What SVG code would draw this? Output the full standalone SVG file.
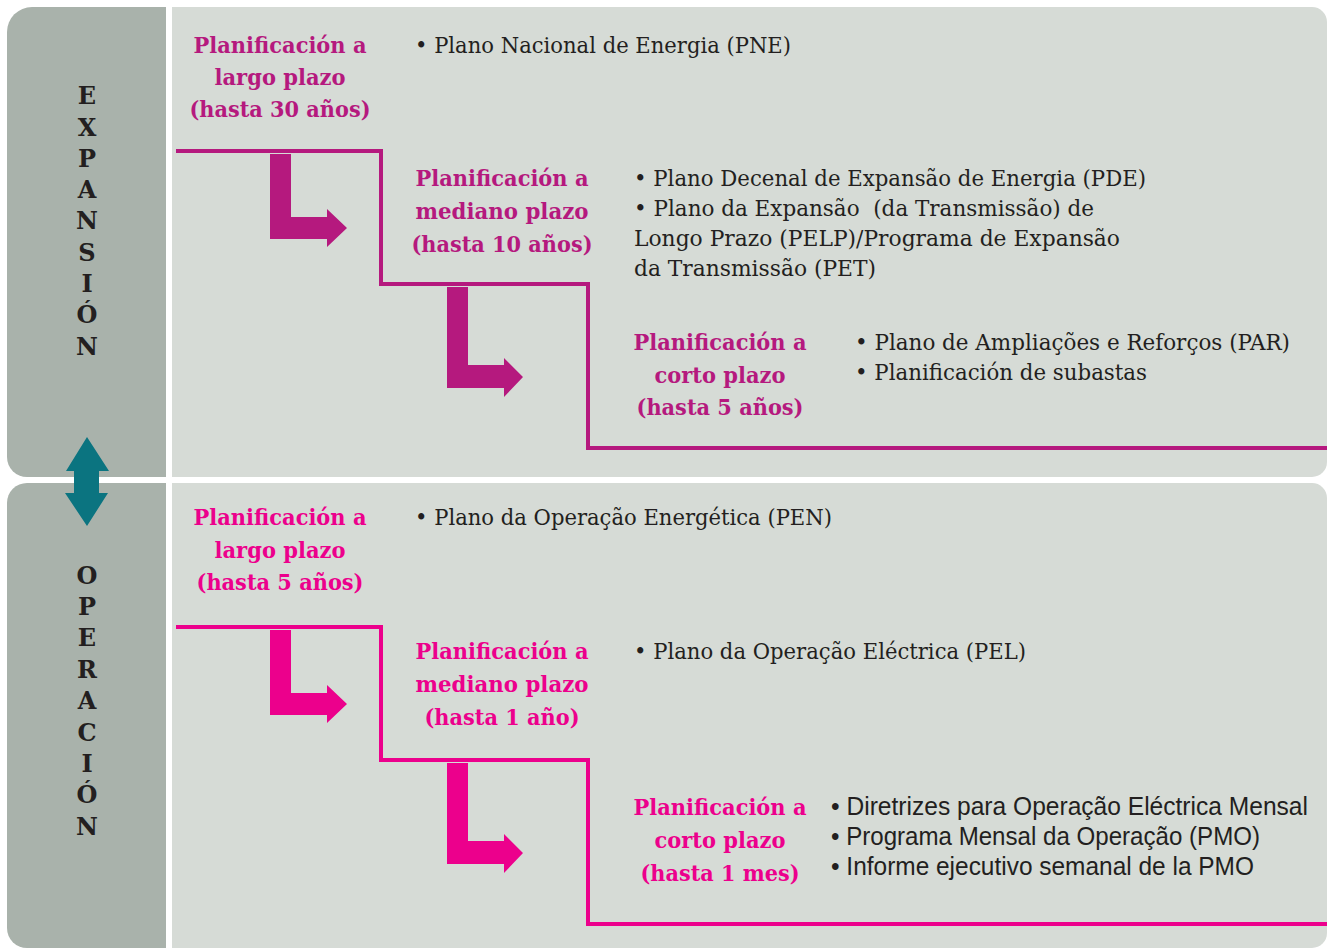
<svg xmlns="http://www.w3.org/2000/svg" width="1333" height="949" viewBox="0 0 1333 949">
<style>
.side{fill:#a9b2ab}
.main{fill:#d6dbd6}
.vl{font-family:"DejaVu Serif",serif;font-weight:bold;font-size:24px;fill:#231f20;text-anchor:middle}
.h{font-family:"DejaVu Serif",serif;font-weight:bold;font-size:22px;text-anchor:middle}
.hx{fill:#b5197e}
.ho{fill:#ec008c}
.b{font-family:"DejaVu Serif",serif;font-size:22px;fill:#231f20}
.bc{font-family:"Liberation Sans",sans-serif;font-size:25px;fill:#231f20}
.stx{fill:none;stroke:#b5197e;stroke-width:4}
.sto{fill:none;stroke:#ec008c;stroke-width:4}
</style>
<rect width="1333" height="949" fill="#ffffff"/>
<g id="panel-expansion">
<path class="side" d="M32,7 H166 V477 H27 A20,20 0 0 1 7,457 V32 A25,25 0 0 1 32,7 Z"/>
<path class="main" d="M172,7 H1312 A15,15 0 0 1 1327,22 V462 A15,15 0 0 1 1312,477 H172 Z"/>
<g id="label-expansion">
<text class="vl" x="87" y="104">E</text>
<text class="vl" x="87" y="136">X</text>
<text class="vl" x="87" y="167">P</text>
<text class="vl" x="87" y="198">A</text>
<text class="vl" x="87" y="229">N</text>
<text class="vl" x="87" y="261">S</text>
<text class="vl" x="87" y="292">I</text>
<text class="vl" x="87" y="323">Ó</text>
<text class="vl" x="87" y="355">N</text>
</g>
</g>
<g id="panel-operacion">
<path class="side" d="M27,483 H166 V948 H27 A20,20 0 0 1 7,928 V503 A20,20 0 0 1 27,483 Z"/>
<path class="main" d="M172,483 H1312 A15,15 0 0 1 1327,498 V933 A15,15 0 0 1 1312,948 H172 Z"/>
<g id="label-operacion">
<text class="vl" x="87" y="584">O</text>
<text class="vl" x="87" y="615">P</text>
<text class="vl" x="87" y="646">E</text>
<text class="vl" x="87" y="678">R</text>
<text class="vl" x="87" y="709">A</text>
<text class="vl" x="87" y="741">C</text>
<text class="vl" x="87" y="772">I</text>
<text class="vl" x="87" y="803">Ó</text>
<text class="vl" x="87" y="835">N</text>
</g>
</g>
<g id="connectors">
<path class="stx" d="M176,151 H381 V284 H588 V448 H1327"/>
<path fill="#b5197e" d="M270,154 H291 V217 H327 V209 L347,228 L327,247 V239 H270 Z"/>
<path fill="#b5197e" d="M447,287 H468 V365 H504 V358 L523,377 L504,397 V388 H447 Z"/>
<path class="sto" d="M176,627 H381 V760 H588 V924 H1327"/>
<path fill="#ec008c" d="M270,630 H291 V693 H327 V685 L347,704 L327,723 V715 H270 Z"/>
<path fill="#ec008c" d="M447,763 H468 V841 H504 V834 L523,853 L504,873 V864 H447 Z"/>
<path fill="#0b7480" d="M87,437 L109,471 H99 V493 H108 L87,526 L65,493 H74 V471 H66 Z"/>
</g>
<g id="exp-largo">
<text class="h hx" x="280" y="53" textLength="173" lengthAdjust="spacingAndGlyphs">Planificación a</text>
<text class="h hx" x="280" y="85" textLength="131" lengthAdjust="spacingAndGlyphs">largo plazo</text>
<text class="h hx" x="280" y="117" textLength="181" lengthAdjust="spacingAndGlyphs">(hasta 30 años)</text>
<text class="b" x="415" y="53" textLength="376" lengthAdjust="spacingAndGlyphs">• Plano Nacional de Energia (PNE)</text>
</g>
<g id="exp-mediano">
<text class="h hx" x="502" y="186" textLength="173" lengthAdjust="spacingAndGlyphs">Planificación a</text>
<text class="h hx" x="502" y="219" textLength="173" lengthAdjust="spacingAndGlyphs">mediano plazo</text>
<text class="h hx" x="502" y="252" textLength="181" lengthAdjust="spacingAndGlyphs">(hasta 10 años)</text>
<text class="b" x="634" y="186" textLength="512" lengthAdjust="spacingAndGlyphs">• Plano Decenal de Expansão de Energia (PDE)</text>
<text class="b" x="634" y="216" xml:space="preserve" textLength="460" lengthAdjust="spacingAndGlyphs">• Plano da Expansão  (da Transmissão) de</text>
<text class="b" x="634" y="246" textLength="486" lengthAdjust="spacingAndGlyphs">Longo Prazo (PELP)/Programa de Expansão</text>
<text class="b" x="634" y="276" textLength="242" lengthAdjust="spacingAndGlyphs">da Transmissão (PET)</text>
</g>
<g id="exp-corto">
<text class="h hx" x="720" y="350" textLength="173" lengthAdjust="spacingAndGlyphs">Planificación a</text>
<text class="h hx" x="720" y="383" textLength="131" lengthAdjust="spacingAndGlyphs">corto plazo</text>
<text class="h hx" x="720" y="415" textLength="167" lengthAdjust="spacingAndGlyphs">(hasta 5 años)</text>
<text class="b" x="855" y="350" textLength="435" lengthAdjust="spacingAndGlyphs">• Plano de Ampliações e Reforços (PAR)</text>
<text class="b" x="855" y="380" textLength="292" lengthAdjust="spacingAndGlyphs">• Planificación de subastas</text>
</g>
<g id="op-largo">
<text class="h ho" x="280" y="525" textLength="173" lengthAdjust="spacingAndGlyphs">Planificación a</text>
<text class="h ho" x="280" y="558" textLength="131" lengthAdjust="spacingAndGlyphs">largo plazo</text>
<text class="h ho" x="280" y="590" textLength="167" lengthAdjust="spacingAndGlyphs">(hasta 5 años)</text>
<text class="b" x="415" y="525" textLength="417" lengthAdjust="spacingAndGlyphs">• Plano da Operação Energética (PEN)</text>
</g>
<g id="op-mediano">
<text class="h ho" x="502" y="659" textLength="173" lengthAdjust="spacingAndGlyphs">Planificación a</text>
<text class="h ho" x="502" y="692" textLength="173" lengthAdjust="spacingAndGlyphs">mediano plazo</text>
<text class="h ho" x="502" y="725" textLength="155" lengthAdjust="spacingAndGlyphs">(hasta 1 año)</text>
<text class="b" x="634" y="659" textLength="392" lengthAdjust="spacingAndGlyphs">• Plano da Operação Eléctrica (PEL)</text>
</g>
<g id="op-corto">
<text class="h ho" x="720" y="815" textLength="173" lengthAdjust="spacingAndGlyphs">Planificación a</text>
<text class="h ho" x="720" y="848" textLength="131" lengthAdjust="spacingAndGlyphs">corto plazo</text>
<text class="h ho" x="720" y="881" textLength="159" lengthAdjust="spacingAndGlyphs">(hasta 1 mes)</text>
<text class="bc" x="831" y="815" textLength="477" lengthAdjust="spacingAndGlyphs">• Diretrizes para Operação Eléctrica Mensal</text>
<text class="bc" x="831" y="845" textLength="429" lengthAdjust="spacingAndGlyphs">• Programa Mensal da Operação (PMO)</text>
<text class="bc" x="831" y="875" textLength="423" lengthAdjust="spacingAndGlyphs">• Informe ejecutivo semanal de la PMO</text>
</g>
</svg>
